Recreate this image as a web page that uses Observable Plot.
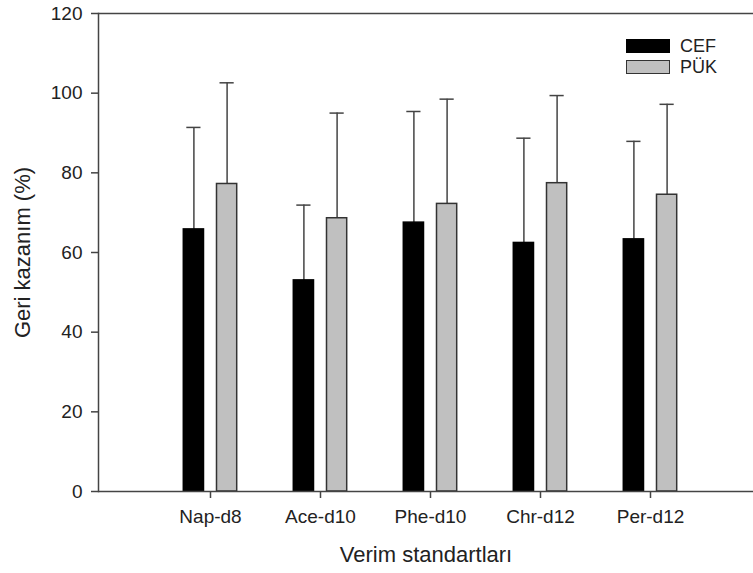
<!DOCTYPE html>
<html>
<head>
<meta charset="utf-8">
<script src="https://cdn.jsdelivr.net/npm/d3@7"></script>
<script src="https://cdn.jsdelivr.net/npm/@observablehq/plot@0.6"></script>
<style>
  body { margin: 0; background: #fff; font-family: "Liberation Sans", Arial, sans-serif; }
  #wrap { position: relative; width: 753px; height: 573px; overflow: hidden; }
  .legend { position: absolute; left: 626px; top: 39px; font-size: 18px; color: #222; line-height: 14px; }
  .legend .row { display: flex; align-items: center; height: 14px; margin-bottom: 7px; }
  .legend .sw { width: 44px; height: 14px; box-sizing: border-box; border: 1.5px solid #333; margin-right: 10px; }
</style>
</head>
<body>
<div id="wrap"></div>
<script>
// ---- data ----
const categories = ["Nap-d8", "Ace-d10", "Phe-d10", "Chr-d12", "Per-d12"];
const seriesNames = ["CEF", "PÜK"];
const cefValues = [65.8, 53.0, 67.5, 62.4, 63.3];
const cefSD     = [25.6, 18.9, 27.9, 26.3, 24.6];
const pukValues = [77.2, 68.6, 72.2, 77.4, 74.5];
const pukSD     = [25.4, 26.4, 26.3, 22.0, 22.7];
const yTicks = [0, 20, 40, 60, 80, 100, 120];
const xTitle = "Verim standartları";
const yTitle = "Geri kazanım (%)";
const seriesColors = ["#000000", "#c0c0c0"];

// ---- build rows ----
const rowsFor = (vals, sds) => categories.map((c, i) => ({cat: c, value: vals[i], top: vals[i] + sds[i]}));
const seriesRows = [rowsFor(cefValues, cefSD), rowsFor(pukValues, pukSD)];

const W = 753, H = 573, mL = 98, mT = 13, mB = 82;
const step = 110.8;
const barW = 21, capW = 15, offset = 16.6;
const axisColor = "#444";

const seriesMarks = seriesRows.flatMap((rows, k) => {
  const dx = k === 0 ? -offset : offset;
  return [
    Plot.ruleX(rows, {x: "cat", y1: "value", y2: "top", dx, stroke: axisColor, strokeWidth: 1.5}),
    Plot.tickY(rows, {x: "cat", y: "top", dx, stroke: axisColor, strokeWidth: 1.5,
      insetLeft: (step - capW) / 2, insetRight: (step - capW) / 2}),
    Plot.barY(rows, {x: "cat", y: "value", dx, fill: seriesColors[k],
      stroke: k === 0 ? "#000" : "#333", strokeWidth: 1.5,
      insetLeft: (step - barW) / 2, insetRight: (step - barW) / 2})
  ];
});

const chart = Plot.plot({
  width: W, height: H,
  marginLeft: mL, marginRight: 0, marginTop: mT, marginBottom: mB,
  style: {fontFamily: "'Liberation Sans', Arial, sans-serif", fontSize: "19px", color: "#222", background: "white"},
  x: {domain: categories, range: [mL + step / 2, mL + step * 5.5], padding: 0},
  y: {domain: [0, 120]},
  marks: [
    ...seriesMarks,
    Plot.ruleY([0], {stroke: axisColor, strokeWidth: 1.5}),
    Plot.ruleY([120], {stroke: axisColor, strokeWidth: 1.5}),
    Plot.frame({anchor: "left", stroke: axisColor, strokeWidth: 1.5}),
    Plot.axisY({ticks: yTicks, tickSize: 7, tickPadding: 9, stroke: axisColor, strokeWidth: 1.5,
      fontSize: 19, label: null}),
    Plot.axisY({ticks: [], label: yTitle, labelAnchor: "center", labelArrow: "none", fontSize: 22, labelOffset: 84}),
    Plot.axisX({tickSize: 7, tickPadding: 11, stroke: axisColor, strokeWidth: 1.5, fontSize: 19, label: null}),
    Plot.axisX({ticks: [], label: xTitle, labelAnchor: "center", labelArrow: "none", fontSize: 22, labelOffset: 70, dx: 4.5})
  ]
});

const wrap = document.getElementById("wrap");
wrap.appendChild(chart);

// legend overlay
const legend = document.createElement("div");
legend.className = "legend";
seriesNames.forEach((name, k) => {
  const row = document.createElement("div");
  row.className = "row";
  const sw = document.createElement("div");
  sw.className = "sw";
  sw.style.background = seriesColors[k];
  if (k === 0) sw.style.borderColor = "#000";
  const t = document.createElement("span");
  t.textContent = name;
  row.appendChild(sw); row.appendChild(t);
  legend.appendChild(row);
});
wrap.appendChild(legend);
</script>
</body>
</html>
